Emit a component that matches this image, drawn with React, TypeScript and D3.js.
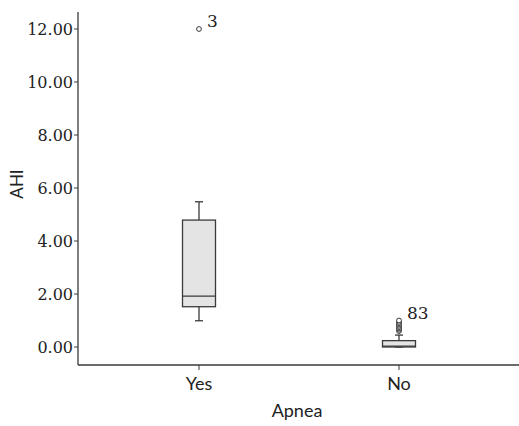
import React from "react";
import * as d3 from "d3";

const categories = ["Yes", "No"];
const q1 = [1.52, 0.0];
const median = [1.92, 0.03];
const q3 = [4.79, 0.24];
const whiskerLow = [0.99, 0.0];
const whiskerHigh = [5.48, 0.45];
const outliers: number[][] = [[12.0], [0.6, 0.65, 0.7, 0.75, 0.8, 0.85, 0.9, 0.95, 1.0]];
const outlierLabels = [{ cat: 0, value: 12.0, text: "3" }, { cat: 1, value: 1.0, text: "83" }];
const yTicks = [0, 2, 4, 6, 8, 10, 12];

export default function App() {
  const W = 519, H = 426;
  const left = 78, right = 519, top = 12, bottom = 365;
  const y = d3.scaleLinear().domain([0, 12]).range([347, 29]);
  const x = d3.scalePoint().domain(categories).range([199, 399]);
  const font = "Lato, 'Open Sans', sans-serif";
  const numFont = "'DejaVu Serif', serif";
  const boxW = 33;
  const stroke = "#3a3a3a";
  return (
    <svg width={W} height={H} style={{ position: "absolute", left: 0, top: 0, background: "#fff" }}>
      <g fontFamily={font} fill="#222">
        <line x1={left} x2={left} y1={top} y2={bottom} stroke={stroke} strokeWidth={1.3} />
        <line x1={left} x2={right} y1={bottom} y2={bottom} stroke={stroke} strokeWidth={1.3} />
        {yTicks.map((t) => (
          <g key={t}>
            <line x1={left - 4} x2={left} y1={y(t)} y2={y(t)} stroke={stroke} strokeWidth={1} />
            <text x={left - 5} y={y(t)} dy="0.36em" textAnchor="end" fontSize={16} fontFamily={numFont}>
              {d3.format(".2f")(t)}
            </text>
          </g>
        ))}
        {categories.map((c) => (
          <g key={c}>
            <line x1={x(c)} x2={x(c)} y1={bottom} y2={bottom + 5} stroke={stroke} strokeWidth={1} />
            <text x={x(c)} y={bottom + 25} textAnchor="middle" fontSize={18}>{c}</text>
          </g>
        ))}
        <text x={297} y={417} textAnchor="middle" fontSize={18}>Apnea</text>
        <text transform={`translate(23,184) rotate(-90)`} textAnchor="middle" fontSize={17}>AHI</text>
        {categories.map((c, i) => {
          const cx = x(c)!;
          return (
            <g key={c} stroke={stroke} strokeWidth={1.3}>
              <line x1={cx} x2={cx} y1={y(q3[i])} y2={y(whiskerHigh[i])} />
              <line x1={cx} x2={cx} y1={y(q1[i])} y2={y(whiskerLow[i])} />
              <line x1={cx - 4} x2={cx + 4} y1={y(whiskerHigh[i])} y2={y(whiskerHigh[i])} />
              <line x1={cx - 4} x2={cx + 4} y1={y(whiskerLow[i])} y2={y(whiskerLow[i])} />
              <rect x={cx - boxW / 2} width={boxW} y={y(q3[i])} height={y(q1[i]) - y(q3[i])} fill="#e4e4e4" />
              <line x1={cx - boxW / 2} x2={cx + boxW / 2} y1={y(median[i])} y2={y(median[i])} />
              {outliers[i].map((v, j) => (
                <circle key={j} cx={cx} cy={y(v)} r={2.4} fill="#fff" strokeWidth={1} />
              ))}
            </g>
          );
        })}
        {outlierLabels.map((l) => (
          <text key={l.text} x={x(categories[l.cat])! + 8} y={y(l.value)} dy="-0.1em" fontSize={17} fontFamily={numFont}>
            {l.text}
          </text>
        ))}
      </g>
    </svg>
  );
}
